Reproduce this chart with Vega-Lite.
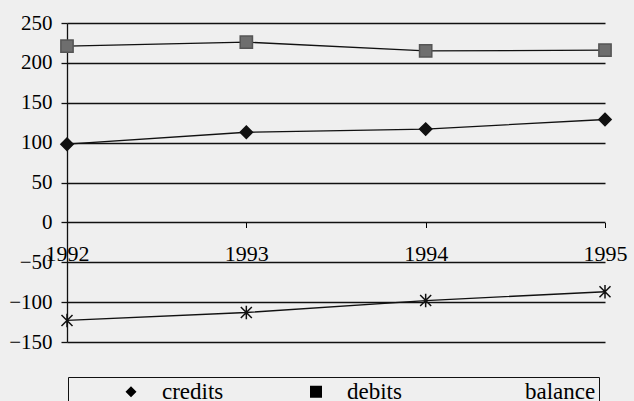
{
  "$schema": "https://vega.github.io/schema/vega-lite/v6.json",
  "autosize": "none",
  "padding": {"left": 67, "top": 23, "right": 29, "bottom": 59},
  "width": 538,
  "height": 319,
  "background": "#efefef",
  "config": {
    "view": {"stroke": null},
    "font": "Liberation Serif"
  },
  "data": {
    "values": [
      {"year": 1992, "series": "credits", "value": 98},
      {"year": 1993, "series": "credits", "value": 113},
      {"year": 1994, "series": "credits", "value": 117},
      {"year": 1995, "series": "credits", "value": 129},
      {"year": 1992, "series": "debits", "value": 221},
      {"year": 1993, "series": "debits", "value": 226},
      {"year": 1994, "series": "debits", "value": 215},
      {"year": 1995, "series": "debits", "value": 216},
      {"year": 1992, "series": "balance", "value": -123},
      {"year": 1993, "series": "balance", "value": -113},
      {"year": 1994, "series": "balance", "value": -98},
      {"year": 1995, "series": "balance", "value": -87}
    ]
  },
  "encoding": {
    "x": {
      "field": "year",
      "type": "quantitative",
      "scale": {"domain": [1992, 1995], "nice": false, "zero": false},
      "axis": {
        "title": null,
        "values": [1992, 1993, 1994, 1995],
        "format": "d",
        "grid": false,
        "domain": false,
        "offset": -119.5,
        "tickSize": 5,
        "tickColor": "black",
        "tickWidth": 1,
        "labelFlush": false,
        "labelOverlap": false,
        "labelBaseline": "alphabetic",
        "labelPadding": 33,
        "labelFont": "Liberation Serif",
        "labelFontSize": 22,
        "labelColor": "black"
      }
    },
    "y": {
      "field": "value",
      "type": "quantitative",
      "scale": {"domain": [-150, 250], "nice": false, "zero": false},
      "axis": {
        "title": null,
        "values": [-150, -100, -50, 0, 50, 100, 150, 200, 250],
        "grid": true,
        "gridColor": "#111111",
        "gridWidth": 1.3,
        "gridOpacity": 1,
        "domain": true,
        "domainColor": "#111111",
        "domainWidth": 1.3,
        "tickSize": 6,
        "tickColor": "#111111",
        "tickWidth": 1.3,
        "labelPadding": 9,
        "labelFont": "Liberation Serif",
        "labelFontSize": 21,
        "labelColor": "black"
      }
    }
  },
  "resolve": {"scale": {"shape": "independent"}, "legend": {"shape": "independent"}},
  "layer": [
    {
      "mark": {"type": "line", "color": "#111111", "strokeWidth": 1.3},
      "encoding": {"detail": {"field": "series", "type": "nominal"}}
    },
    {
      "mark": {"type": "point", "filled": true, "opacity": 1, "strokeWidth": 1.5, "size": 150},
      "encoding": {
        "shape": {
          "field": "series",
          "type": "nominal",
          "scale": {
            "domain": ["credits", "debits", "balance"],
            "range": [
              "M0,-1L1,0L0,1L-1,0Z",
              "M-1,-1H1V1H-1Z",
              "M-0.9,-0.9L0.9,0.9M-0.9,0.9L0.9,-0.9M0,-1.1V1.1"
            ]
          },
          "legend": null
        },
        "fill": {
          "field": "series",
          "type": "nominal",
          "scale": {"domain": ["credits", "debits", "balance"], "range": ["#111111", "#6e6e6e", "transparent"]},
          "legend": null
        },
        "stroke": {
          "field": "series",
          "type": "nominal",
          "scale": {"domain": ["credits", "debits", "balance"], "range": ["#111111", "#555555", "#111111"]},
          "legend": null
        }
      }
    },
    {
      "mark": {"type": "point", "filled": true, "opacity": 1, "strokeWidth": 1.5, "size": 0},
      "encoding": {
        "shape": {
          "field": "series",
          "type": "nominal",
          "scale": {
            "domain": ["credits", "debits", "balance"],
            "range": [
              "M-5.5,0H5.5M0,-1.1L1.1,0L0,1.1L-1.1,0Z",
              "M-5.5,0H5.5M-1.2,-1.2H1.2V1.2H-1.2Z",
              "M-5.5,0H5.5M-1.1,-1.1L1.1,1.1M-1.1,1.1L1.1,-1.1M0,-1.3V1.3"
            ]
          },
          "legend": {
            "title": null,
            "orient": "none",
            "direction": "horizontal",
            "legendX": 1,
            "legendY": 354,
            "padding": 3,
            "strokeColor": "#111111",
            "symbolSize": 100,
            "symbolStrokeWidth": 1.5,
            "symbolStrokeColor": "#111111",
            "symbolOpacity": 1,
            "symbolOffset": 48.5,
            "labelOffset": 19.5,
            "columnPadding": 32,
            "labelFont": "Liberation Serif",
            "labelFontSize": 23,
            "labelColor": "black",
            "labelLimit": 300,
            "labelExpr": "datum.label === 'balance' ? 'balance   ' : datum.label",
            "encode": {
              "legend": {"strokeWidth": {"value": 1.3}}
            }
          }
        },
        "fill": {
          "field": "series",
          "type": "nominal",
          "scale": {"domain": ["credits", "debits", "balance"], "range": ["#111111", "#6e6e6e", "transparent"]},
          "legend": null
        },
        "stroke": {
          "field": "series",
          "type": "nominal",
          "scale": {"domain": ["credits", "debits", "balance"], "range": ["#111111", "#555555", "#111111"]},
          "legend": null
        }
      }
    }
  ]
}
